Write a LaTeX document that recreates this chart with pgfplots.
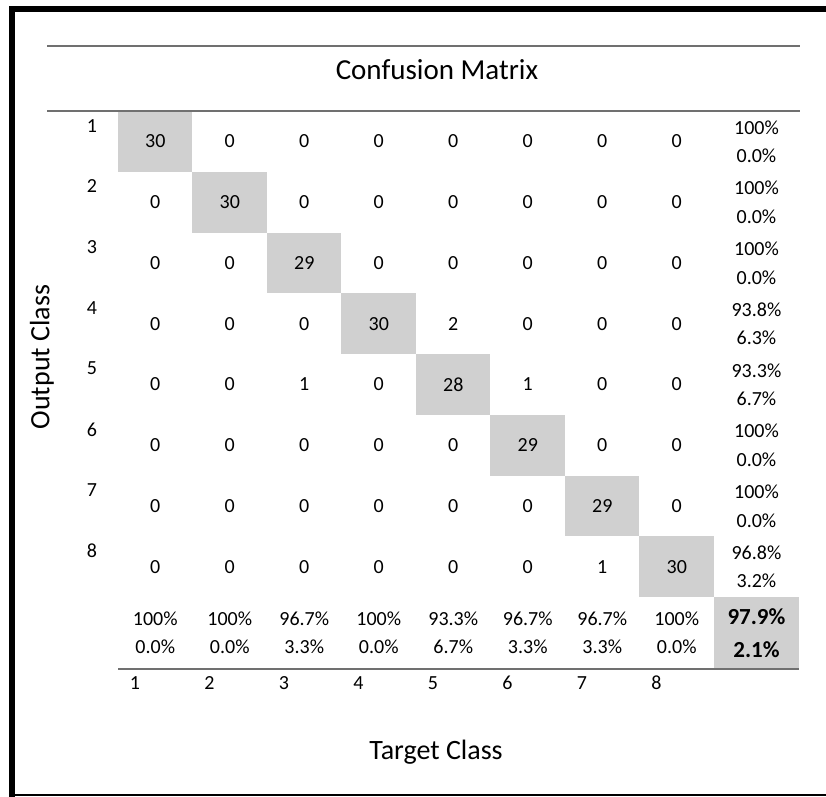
\documentclass[border=0pt]{standalone}
\usepackage{pgfplots}
\pgfplotsset{compat=1.18}
\usepackage{pgfplotstable}
\usepackage{fontspec}
\setmainfont{Carlito}
\definecolor{cellgray}{RGB}{208,208,208}
\definecolor{rulegray}{RGB}{112,112,112}

% confusion counts: x = target class, y = output class
\pgfplotstableread{
x y v
1 1 30
2 1 0
3 1 0
4 1 0
5 1 0
6 1 0
7 1 0
8 1 0
1 2 0
2 2 30
3 2 0
4 2 0
5 2 0
6 2 0
7 2 0
8 2 0
1 3 0
2 3 0
3 3 29
4 3 0
5 3 0
6 3 0
7 3 0
8 3 0
1 4 0
2 4 0
3 4 0
4 4 30
5 4 2
6 4 0
7 4 0
8 4 0
1 5 0
2 5 0
3 5 1
4 5 0
5 5 28
6 5 1
7 5 0
8 5 0
1 6 0
2 6 0
3 6 0
4 6 0
5 6 0
6 6 29
7 6 0
8 6 0
1 7 0
2 7 0
3 7 0
4 7 0
5 7 0
6 7 0
7 7 29
8 7 0
1 8 0
2 8 0
3 8 0
4 8 0
5 8 0
6 8 0
7 8 1
8 8 30
}\counts

% row summary (percent correct / wrong), placed in the ninth column
\pgfplotstableread{
x y v
9.07 0.77 100
9.07 1.24 0.0
9.07 1.77 100
9.07 2.24 0.0
9.07 2.77 100
9.07 3.24 0.0
9.07 3.77 93.8
9.07 4.24 6.3
9.07 4.77 93.3
9.07 5.24 6.7
9.07 5.77 100
9.07 6.24 0.0
9.07 6.77 100
9.07 7.24 0.0
9.07 7.77 96.8
9.07 8.24 3.2
}\rowsum

% column summary (percent correct / wrong), placed in the ninth row
\pgfplotstableread{
x y v
1 8.862 100
1 9.323 0.0
2 8.862 100
2 9.323 0.0
3 8.862 96.7
3 9.323 3.3
4 8.862 100
4 9.323 0.0
5 8.862 93.3
5 9.323 6.7
6 8.862 96.7
6 9.323 3.3
7 8.862 96.7
7 9.323 3.3
8 8.862 100
8 9.323 0.0
}\colsum

\pgfplotstableread{
x y v
9.07 8.829 97.9
9.07 9.372 2.1
}\total

\begin{document}
\begin{tikzpicture}
\useasboundingbox (0,0) rectangle (413pt,-398.5pt);
\fill[white] (0,0) rectangle (413pt,-398.5pt);
\begin{axis}[
  at={(59pt,-55.5pt)}, anchor=north west,
  scale only axis, width=340.5pt, height=279pt,
  xmin=0.5, xmax=9.641, ymin=0.5, ymax=9.685, y dir=reverse,
  clip=false,
  axis line style={draw=none}, major tick length=0pt,
  /pgf/number format/assume math mode=true,
  xtick={0.728,1.728,2.728,3.728,4.728,5.728,6.728,7.728},
  xticklabels={1,2,3,4,5,6,7,8},
  ytick={0.74,1.74,2.74,3.74,4.74,5.74,6.74,7.74},
  yticklabels={1,2,3,4,5,6,7,8},
  xticklabel style={anchor=center, yshift=-7pt, font=\fontsize{10}{12}\selectfont},
  yticklabel style={anchor=center, xshift=-13pt, font=\fontsize{10}{12}\selectfont},
  title={Confusion Matrix},
  title style={at={(axis description cs:0.4684,1.052)}, anchor=center, font=\fontsize{14.5}{17}\selectfont},
  xlabel={Target Class},
  xlabel style={at={(axis description cs:0.467,-0.1487)}, anchor=center, font=\fontsize{14}{17}\selectfont},
  ylabel={Output Class},
  ylabel style={at={(axis description cs:-0.1116,0.559)}, anchor=center, font=\fontsize{14}{17}\selectfont},
]
% shaded diagonal cells and overall cell
\addplot[fill=cellgray, draw=none, forget plot] coordinates {(0.5,0.5) (1.5,0.5) (1.5,1.5) (0.5,1.5)};
\addplot[fill=cellgray, draw=none, forget plot] coordinates {(1.5,1.5) (2.5,1.5) (2.5,2.5) (1.5,2.5)};
\addplot[fill=cellgray, draw=none, forget plot] coordinates {(2.5,2.5) (3.5,2.5) (3.5,3.5) (2.5,3.5)};
\addplot[fill=cellgray, draw=none, forget plot] coordinates {(3.5,3.5) (4.5,3.5) (4.5,4.5) (3.5,4.5)};
\addplot[fill=cellgray, draw=none, forget plot] coordinates {(4.5,4.5) (5.5,4.5) (5.5,5.5) (4.5,5.5)};
\addplot[fill=cellgray, draw=none, forget plot] coordinates {(5.5,5.5) (6.5,5.5) (6.5,6.5) (5.5,6.5)};
\addplot[fill=cellgray, draw=none, forget plot] coordinates {(6.5,6.5) (7.5,6.5) (7.5,7.5) (6.5,7.5)};
\addplot[fill=cellgray, draw=none, forget plot] coordinates {(7.5,7.5) (8.5,7.5) (8.5,8.5) (7.5,8.5)};
\addplot[fill=cellgray, draw=none, forget plot] coordinates {(8.5,8.5) (9.641,8.5) (9.641,9.685) (8.5,9.685)};

\addplot[only marks, mark=*, mark size=0pt, mark options={draw=none,fill=none},
  point meta=explicit symbolic, nodes near coords={\pgfplotspointmeta},
  nodes near coords align={center},
  nodes near coords style={anchor=center, font=\fontsize{10}{12}\selectfont}]
  table[x=x, y=y, meta=v] {\counts};
\addplot[only marks, mark=*, mark size=0pt, mark options={draw=none,fill=none},
  point meta=explicit symbolic, nodes near coords={\pgfplotspointmeta\%},
  nodes near coords align={center},
  nodes near coords style={anchor=center, font=\fontsize{10}{12}\selectfont}]
  table[x=x, y=y, meta=v] {\rowsum};
\addplot[only marks, mark=*, mark size=0pt, mark options={draw=none,fill=none},
  point meta=explicit symbolic, nodes near coords={\pgfplotspointmeta\%},
  nodes near coords align={center},
  nodes near coords style={anchor=center, font=\fontsize{10}{12}\selectfont}]
  table[x=x, y=y, meta=v] {\colsum};
\addplot[only marks, mark=*, mark size=0pt, mark options={draw=none,fill=none},
  point meta=explicit symbolic, nodes near coords={\pgfplotspointmeta\%},
  nodes near coords align={center},
  nodes near coords style={anchor=center, font=\bfseries\fontsize{11.5}{13}\selectfont}]
  table[x=x, y=y, meta=v] {\total};
\end{axis}
\begin{scope}[x=0.5pt, y=-0.5pt]
  % rules
  \draw[rulegray, line width=1pt] (47,46) -- (800,46);
  \draw[rulegray, line width=1pt] (47,111) -- (800,111);
  \draw[rulegray, line width=1pt] (118,669) -- (799,669);
  % frame
  \fill[black] (9,6) rectangle (15,797);
  \fill[black] (9,6) rectangle (826,12);
  \fill[black] (15,794) rectangle (826,796);
\end{scope}
\end{tikzpicture}
\end{document}
